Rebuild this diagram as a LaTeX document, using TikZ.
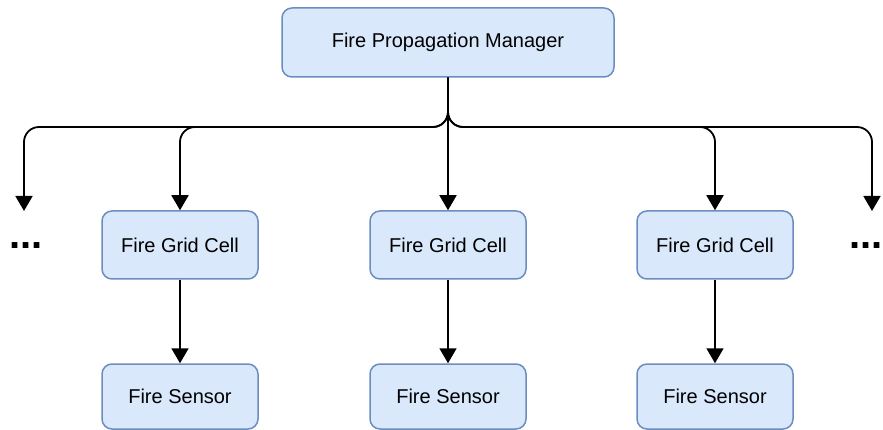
\documentclass[tikz,border=0pt]{standalone}
\usepackage{fontspec}
\setmainfont{Liberation Sans}
\usetikzlibrary{arrows.meta}
\definecolor{boxfill}{HTML}{DAE8FC}
\definecolor{boxline}{HTML}{6C8EBF}
\begin{document}
\begin{tikzpicture}[x=1pt,y=-1pt,
  box/.style={draw=boxline, fill=boxfill, line width=1.5pt, rounded corners=10pt,
    minimum width=156pt, minimum height=68pt, inner sep=0pt,
    font=\fontsize{20}{24}\selectfont},
  edge/.style={line width=1.8pt, rounded corners=15pt,
    -{Triangle[width=17pt,length=15pt]}},
  dots/.style={inner sep=0pt, anchor=base west, font=\fontsize{40}{48}\selectfont\bfseries}]
\useasboundingbox (0,0) rectangle (883,430);
\node[box, minimum width=332pt, minimum height=69pt] (mgr) at (448,42.5) {Fire Propagation Manager};
\node[box] (cell1) at (180,245) {Fire Grid Cell};
\node[box] (cell2) at (448,245) {Fire Grid Cell};
\node[box] (cell3) at (715,245) {Fire Grid Cell};
\node[box, minimum height=65pt] (sens1) at (180,396.5) {Fire Sensor};
\node[box, minimum height=65pt] (sens2) at (448,396.5) {Fire Sensor};
\node[box, minimum height=65pt] (sens3) at (715,396.5) {Fire Sensor};
\node[dots] (ldots) at (9.5,249) {...};
\node[dots] (rdots) at (849,249) {...};
\coordinate (bus) at (448,127);
\coordinate (lend) at (24,211);
\coordinate (rend) at (872,211);
\draw[edge] (mgr.south) -- (bus) -| (lend);
\draw[edge] (mgr.south) -- (bus) -| (cell1.north);
\draw[edge] (mgr.south) -- (cell2.north);
\draw[edge] (mgr.south) -- (bus) -| (cell3.north);
\draw[edge] (mgr.south) -- (bus) -| (rend);
\draw[edge] (cell1.south) -- (sens1.north);
\draw[edge] (cell2.south) -- (sens2.north);
\draw[edge] (cell3.south) -- (sens3.north);
\end{tikzpicture}
\end{document}
